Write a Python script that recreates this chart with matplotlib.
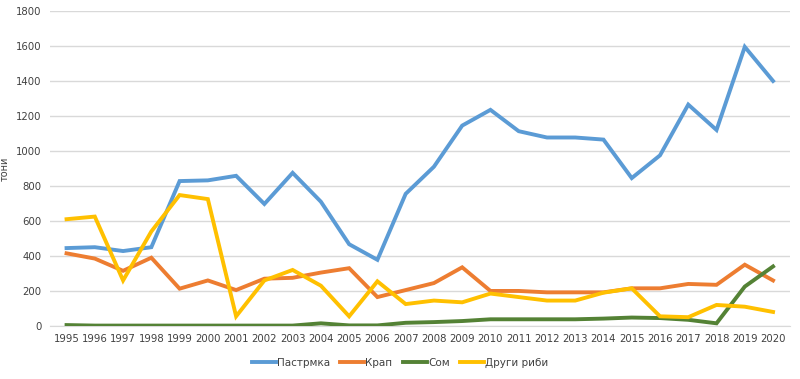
import matplotlib
matplotlib.use("Agg")
import matplotlib.pyplot as plt

years = list(range(1995, 2021))
pastrmka = [445, 450, 428, 450, 828, 832, 858, 697, 875, 710, 467, 378, 755, 910, 1145, 1235,
            1113, 1077, 1077, 1065, 845, 975, 1265, 1120, 1595, 1400]
krap = [415, 385, 315, 390, 213, 260, 205, 270, 275, 305, 330, 165, 205, 245, 335, 200,
        200, 192, 192, 192, 215, 215, 240, 235, 350, 260]
som = [5, 2, 2, 2, 2, 2, 2, 2, 2, 15, 3, 3, 18, 22, 28, 38,
       38, 38, 38, 42, 48, 45, 35, 15, 225, 340]
drugi = [610, 625, 260, 540, 748, 725, 55, 260, 320, 230, 55, 255, 125, 145, 135, 185,
         165, 145, 145, 190, 215, 55, 50, 120, 110, 80]
series_names = ["Пастрмка", "Крап", "Сом", "Други риби"]
colors = ["#5B9BD5", "#ED7D31", "#548235", "#FFC000"]
y_ticks = list(range(0, 2000, 200))

fig = plt.figure(figsize=(8, 3.79), dpi=100)
ax = fig.add_axes([0.062, 0.14, 0.9255, 0.831])
for vals, name, c in zip([pastrmka, krap, som, drugi], series_names, colors):
    ax.plot(years, vals, color=c, lw=2.8, label=name, solid_joinstyle="miter", zorder=3)

ax.set_xlim(1994.4, 2020.6)
ax.set_ylim(0, 1800)
ax.set_yticks(y_ticks)
ax.set_xticks(years)
ax.set_xticklabels([str(y) for y in years])
ax.grid(axis="y", color="#D9D9D9", lw=1)
ax.set_axisbelow(True)
for s in ["top", "right", "left"]:
    ax.spines[s].set_visible(False)
ax.spines["bottom"].set_color("#D9D9D9")
ax.tick_params(axis="both", length=0, labelsize=7.3, colors="#404040", pad=6)
ax.set_ylabel("тони", fontsize=7, color="#404040")
ax.yaxis.set_label_coords(-0.054, 0.5)
fig.legend(loc="center", bbox_to_anchor=(0.5, 0.042), ncol=4, frameon=False,
           fontsize=7.5, handlelength=2.3, columnspacing=1.0, handletextpad=0.1,
           labelcolor="#404040")
fig.savefig("out.png", dpi=100)
